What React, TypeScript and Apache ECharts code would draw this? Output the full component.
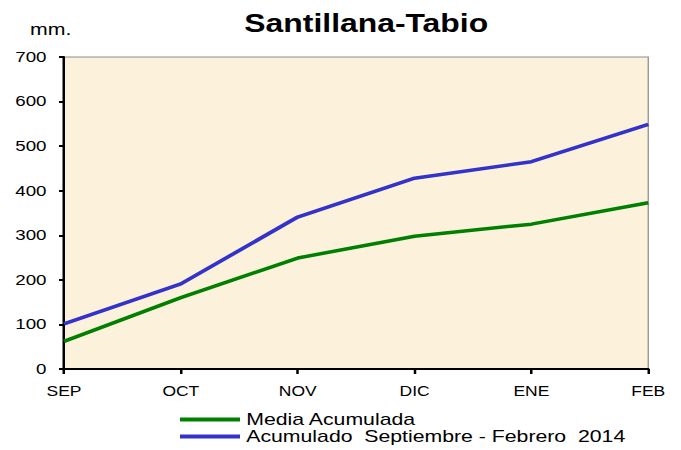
import React, { useEffect, useRef } from "react";
import * as echarts from "echarts";

const months = ["SEP", "OCT", "NOV", "DIC", "ENE", "FEB"];
const mediaAcumulada = [62, 160, 249, 298, 325, 373];
const acumulado2014 = [101, 191, 341, 428, 465, 549];
const seriesNames = ["Media Acumulada", "Acumulado  Septiembre - Febrero  2014"];

const STRETCH = 1.25;
const W = 681;
const H = 450;
const innerW = W / STRETCH;

export default function App() {
  const ref = useRef<HTMLDivElement>(null);
  useEffect(() => {
    const chart = echarts.init(ref.current!, null, { renderer: "svg" });
    const font = "Liberation Sans, Arial, sans-serif";
    const sx = (v: number) => v / STRETCH;
    chart.setOption({
      animation: false,
      backgroundColor: "#ffffff",
      title: {
        text: "Santillana-Tabio",
        left: sx(360),
        textAlign: "center",
        top: 5,
        textStyle: { fontFamily: font, fontSize: 25.5, fontWeight: "bold", color: "#000" },
      },
      graphic: [
        {
          type: "text",
          left: sx(30),
          top: 21,
          style: { text: "mm.", font: `17px ${font}`, fill: "#000" },
        },
      ],
      legend: {
        orient: "vertical",
        left: sx(180),
        top: 411,
        height: 39,
        itemWidth: sx(60),
        itemHeight: 4,
        itemGap: 0,
        padding: 0,
        icon: "rect",
        textStyle: { fontFamily: font, fontSize: 17, color: "#000" },
        data: seriesNames,
      },
      grid: {
        left: sx(64),
        right: sx(W - 648),
        top: 57,
        bottom: H - 369,
        show: true,
        backgroundColor: "#FCF1DB",
        borderColor: "#8c8c8c",
        borderWidth: 1,
      },
      xAxis: {
        type: "category",
        data: months,
        boundaryGap: false,
        axisLine: { lineStyle: { color: "#000", width: 2 } },
        axisTick: { show: true, length: 5, lineStyle: { color: "#000", width: 2 } },
        axisLabel: { fontFamily: font, fontSize: 14, color: "#000", margin: 15 },
        splitLine: { show: false },
      },
      yAxis: {
        type: "value",
        min: 0,
        max: 700,
        interval: 100,
        axisLine: { show: true, lineStyle: { color: "#000", width: 2 } },
        axisTick: { show: true, length: 4, lineStyle: { color: "#000", width: 2 } },
        axisLabel: { fontFamily: font, fontSize: 15, color: "#000", margin: 14 },
        splitLine: { show: false },
      },
      series: [
        {
          name: seriesNames[0],
          type: "line",
          data: mediaAcumulada,
          symbol: "none",
          lineStyle: { color: "#008000", width: 3.5 },
          itemStyle: { color: "#008000" },
        },
        {
          name: seriesNames[1],
          type: "line",
          data: acumulado2014,
          symbol: "none",
          lineStyle: { color: "#3333CC", width: 3.5 },
          itemStyle: { color: "#3333CC" },
        },
      ],
    });
    return () => chart.dispose();
  }, []);
  return (
    <div style={{ position: "absolute", left: 0, top: 0, width: W, height: H, overflow: "hidden", background: "#fff" }}>
      <div
        ref={ref}
        style={{
          width: innerW,
          height: H,
          transform: `scaleX(${STRETCH})`,
          transformOrigin: "0 0",
        }}
      />
    </div>
  );
}
